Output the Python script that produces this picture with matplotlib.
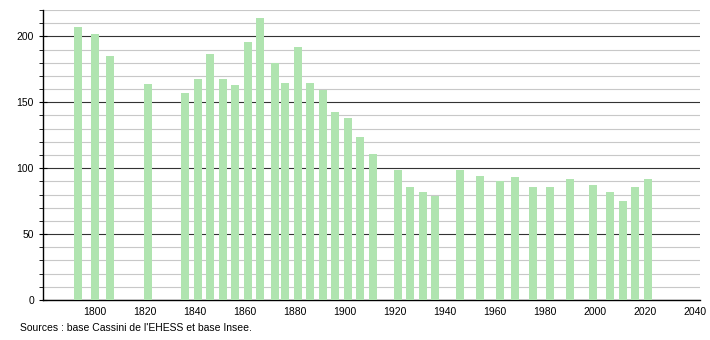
import matplotlib.pyplot as plt
from matplotlib.ticker import MultipleLocator

plt.rcParams['font.family'] = ['Liberation Sans', 'DejaVu Sans']

# Population data
years = [1793, 1800, 1806, 1821, 1836, 1841, 1846, 1851, 1856, 1861, 1866,
         1872, 1876, 1881, 1886, 1891, 1896, 1901, 1906, 1911, 1921, 1926,
         1931, 1936, 1946, 1954, 1962, 1968, 1975, 1982, 1990, 1999, 2006,
         2011, 2016, 2021]
population = [207, 202, 185, 164, 157, 168, 187, 168, 163, 196, 214,
              180, 165, 192, 165, 159, 143, 138, 124, 111, 99, 86,
              82, 79, 99, 94, 90, 93, 86, 86, 92, 87, 82,
              75, 86, 92]
xticks = [1800, 1820, 1840, 1860, 1880, 1900, 1920, 1940, 1960, 1980, 2000, 2020, 2040]

fig = plt.figure(figsize=(7.1, 3.4), dpi=100)
ax = fig.add_axes([43 / 710, 40 / 340, 657 / 710, 290 / 340])

ax.bar(years, population, width=3.2, color='#b0e4b0', zorder=3)

ax.set_xlim(1779.2, 2042)
ax.set_ylim(0, 220)
ax.set_xticks(xticks)
ax.yaxis.set_major_locator(MultipleLocator(50))
ax.yaxis.set_minor_locator(MultipleLocator(10))
ax.grid(which='minor', axis='y', color='#c8c8c8', linewidth=0.8, zorder=1)
ax.grid(which='major', axis='y', color='#333333', linewidth=0.8, zorder=2)

for s in ['top', 'right']:
    ax.spines[s].set_visible(False)
ax.spines['left'].set_linewidth(1)
ax.spines['bottom'].set_linewidth(1)
ax.tick_params(axis='x', length=0, labelsize=7.5, pad=5)
ax.tick_params(axis='y', which='major', length=6, labelsize=7.5, direction='inout')
ax.tick_params(axis='y', which='minor', length=3)

fig.text(20 / 710, 1 - 328 / 340, "Sources : base Cassini de l'EHESS et base Insee.",
         fontsize=7.5, va='center')

fig.savefig("out.png", dpi=100)
